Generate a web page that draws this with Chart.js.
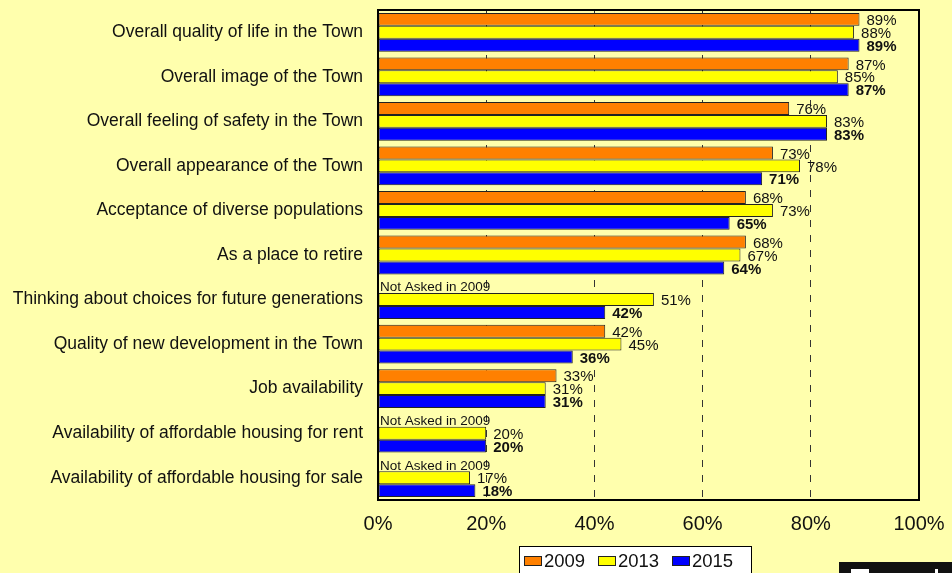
<!DOCTYPE html>
<html>
<head>
<meta charset="utf-8">
<script src="https://cdn.jsdelivr.net/npm/chart.js@4.4.0/dist/chart.umd.min.js"></script>
<style>
html,body{margin:0;padding:0;background:#FFFFAD;}
#wrap{width:952px;height:573px;position:relative;}
</style>
</head>
<body>
<div id="wrap"><canvas id="c" width="952" height="573"></canvas></div>
<script>
const categories = [
  "Overall quality of life in the Town",
  "Overall image of the Town",
  "Overall feeling of safety in the Town",
  "Overall appearance of the Town",
  "Acceptance of diverse populations",
  "As a place to retire",
  "Thinking about choices for future generations",
  "Quality of new development in the Town",
  "Job availability",
  "Availability of affordable housing for rent",
  "Availability of affordable housing for sale"
];
const seriesNames = ["2009", "2013", "2015"];
const values2009 = [89, 87, 76, 73, 68, 68, null, 42, 33, null, null];
const values2013 = [88, 85, 83, 78, 73, 67, 51, 45, 31, 20, 17];
const values2015 = [89, 87, 83, 71, 65, 64, 42, 36, 31, 20, 18];
const xTicks = [0, 20, 40, 60, 80, 100];
const notAskedText = "Not Asked in 2009";

const colors = ["#FF8000", "#FFFF00", "#0000FF"];
const FONT = "'Liberation Sans', Arial, sans-serif";

const labelPlugin = {
  id: 'labels',
  afterDatasetsDraw(chart) {
    const ctx = chart.ctx;
    const xs = chart.scales.x;
    ctx.save();
    ctx.textBaseline = 'middle';
    ctx.textAlign = 'left';
    ctx.fillStyle = '#111';
    chart.data.datasets.forEach((ds, di) => {
      const meta = chart.getDatasetMeta(di);
      meta.data.forEach((el, i) => {
        const v = ds.data[i];
        if (v === null) return;
        ctx.font = (di === 2 ? 'bold ' : '') + '15px ' + FONT;
        ctx.fillText(v + '%', el.x + 7, el.y + 1.5);
      });
    });
    const m1 = chart.getDatasetMeta(1);
    ctx.font = '13.5px ' + FONT;
    values2009.forEach((v, i) => {
      if (v === null) {
        const el = m1.data[i];
        ctx.fillText(notAskedText, xs.getPixelForValue(0) + 2, el.y - el.height + 1);
      }
    });
    const a = chart.chartArea;
    ctx.strokeStyle = '#000';
    ctx.lineWidth = 2;
    ctx.strokeRect(a.left, a.top, a.right - a.left, a.bottom - a.top);
    ctx.restore();
  },
  afterDraw(chart) {
    const ctx = chart.ctx;
    ctx.save();
    ctx.fillStyle = '#fff';
    ctx.fillRect(519, 546, 232, 30);
    ctx.strokeStyle = '#000';
    ctx.lineWidth = 1;
    ctx.strokeRect(519.5, 546.5, 232, 30);
    const sx = [524, 598, 672];
    ctx.font = '18.5px ' + FONT;
    ctx.textBaseline = 'middle';
    ctx.textAlign = 'left';
    seriesNames.forEach((n, k) => {
      ctx.fillStyle = colors[k];
      ctx.fillRect(sx[k], 556, 17, 9);
      ctx.strokeStyle = '#222';
      ctx.strokeRect(sx[k] + 0.5, 556.5, 17, 9);
      ctx.fillStyle = '#111';
      ctx.fillText(n, sx[k] + 20, 562);
    });
    ctx.fillStyle = '#111';
    ctx.fillRect(839, 562, 113, 11);
    ctx.fillStyle = '#fff';
    ctx.fillRect(851, 569, 18, 4);
    ctx.fillRect(935, 569, 3, 4);
    ctx.restore();
  }
};

new Chart(document.getElementById('c'), {
  type: 'bar',
  data: {
    labels: categories,
    datasets: [values2009, values2013, values2015].map((d, k) => ({
      label: seriesNames[k],
      data: d,
      backgroundColor: colors[k],
      borderColor: '#222',
      borderWidth: 1,
      borderSkipped: false,
      categoryPercentage: 0.87,
      barPercentage: 1.0
    }))
  },
  options: {
    indexAxis: 'y',
    responsive: false,
    animation: false,
    devicePixelRatio: 1,
    layout: { padding: { left: 0, right: 33, top: 10, bottom: 0 } },
    plugins: { legend: { display: false }, tooltip: { enabled: false } },
    scales: {
      x: {
        min: 0, max: 100,
        afterBuildTicks(s) { s.ticks = xTicks.map(v => ({ value: v })); },
        afterFit(s) { s.height = 73; s.paddingLeft = 0; s.paddingRight = 0; s.paddingTop = 0; s.paddingBottom = 0; },
        ticks: {
          callback: v => v + '%',
          font: { family: FONT, size: 20 },
          color: '#111',
          padding: 12,
          maxRotation: 0
        },
        grid: {
          drawTicks: false,
          color: ctx => (ctx.tick && (ctx.tick.value === 0 || ctx.tick.value === 100)) ? 'rgba(0,0,0,0)' : '#333',
          lineWidth: 1
        },
        border: { display: false, dash: [7, 8] }
      },
      y: {
        afterFit(s) { s.width = 378; s.paddingLeft = 0; s.paddingRight = 0; s.paddingTop = 0; s.paddingBottom = 0; },
        ticks: {
          font: { family: FONT, size: 17.5 },
          color: '#111',
          padding: 15
        },
        grid: { display: false, drawTicks: false },
        border: { display: false }
      }
    }
  },
  plugins: [labelPlugin]
});
</script>
</body>
</html>
